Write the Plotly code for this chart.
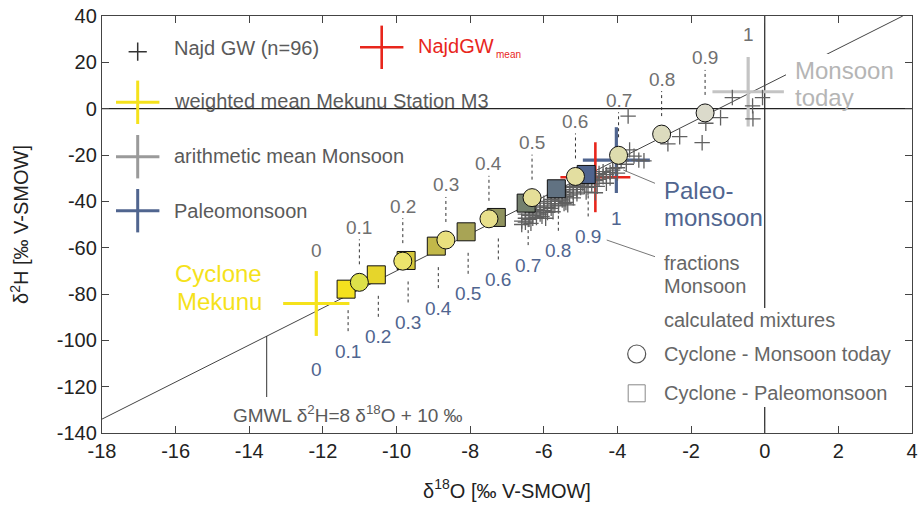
import plotly.graph_objects as go

# ---------------- data ----------------
fractions = [0.1, 0.2, 0.3, 0.4, 0.5, 0.6, 0.7, 0.8, 0.9]
frac_labels = ["0.1", "0.2", "0.3", "0.4", "0.5", "0.6", "0.7", "0.8", "0.9"]

# Cyclone - Monsoon today mixtures (circles)
circ_d18O = [-11.01, -9.83, -8.66, -7.49, -6.32, -5.14, -3.97, -2.80, -1.62]
circ_d2H = [-74.96, -65.82, -56.68, -47.54, -38.40, -29.26, -20.12, -10.98, -1.84]
circ_colors = ["#dde04a", "#ece46c", "#e9e07e", "#e8e08c", "#e5df98", "#e3dea0",
               "#dedcae", "#dcdbbe", "#dbdacb"]

# Cyclone - Paleomonsoon mixtures (squares)
sq_d18O = [-11.37, -10.55, -9.74, -8.92, -8.11, -7.29, -6.48, -5.66, -4.85]
sq_d2H = [-77.91, -71.72, -65.53, -59.34, -53.15, -46.96, -40.77, -34.58, -28.39]
sq_colors = ["#f4e11e", "#e6d52b", "#d6c83b", "#c2b849", "#a8a455", "#8f925e",
             "#74806e", "#617282", "#4f648e"]

# end members: (d18O, d2H, err d18O, err d2H)
cyclone = (-12.18, -84.1, 0.9, 14.0)
monsoon = (-0.45, 7.3, 0.97, 15.0)
paleo = (-4.03, -22.2, 0.91, 14.2)
najd_mean = (-4.60, -29.6, 0.95, 15.1)

# Najd groundwater samples (n=96)
najd_d18O = [
    -0.88, -0.06, -0.33, -0.32, -3.71, -1.20, -1.60, -2.31, -2.63, -1.70,
    -3.67, -3.42, -3.76, -4.13, -4.39, -3.28, -3.55,
    -6.60, -6.60, -6.50, -6.50, -6.50, -6.40, -6.40, -6.30, -6.30, -6.30,
    -6.20, -6.20, -6.20, -6.10, -6.10, -6.10, -6.00, -6.00, -6.00, -5.95,
    -5.90, -5.90, -5.90, -5.80, -5.80, -5.80, -5.70, -5.70, -5.70,
    -5.60, -5.60, -5.60, -5.50, -5.50, -5.50, -5.40, -5.40, -5.40,
    -5.30, -5.30, -5.30, -5.20, -5.20, -5.20, -5.10, -5.10, -5.10,
    -5.00, -5.00, -5.00, -4.94, -4.90, -4.90, -4.80, -4.80, -4.80,
    -4.70, -4.70, -4.60, -4.60, -4.60, -4.50, -4.50, -4.39, -4.30, -4.30,
    -4.20, -4.20, -4.13, -4.00, -4.00,
    -5.75, -5.35, -4.85, -6.35, -4.55, -3.90, -6.05, -5.45,
]
najd_d2H = [
    4.8, 4.8, 1.2, -4.4, -3.2, -3.9, -6.3, -12.1, -15.2, -14.7,
    -17.8, -22.2, -24.0, -26.5, -27.2, -22.5, -20.5,
    -48.5, -50.0, -47.3, -45.5, -49.0, -46.0, -47.8, -47.3, -44.5, -46.2,
    -43.5, -45.0, -47.0, -43.8, -42.0, -45.5, -42.5, -44.0, -40.8, -47.3,
    -42.6, -40.0, -44.8, -41.0, -39.2, -43.0, -41.6, -38.5, -40.0,
    -39.8, -37.5, -42.0, -39.4, -37.0, -35.8, -38.0, -36.2, -40.5,
    -37.3, -35.0, -34.0, -36.0, -33.5, -38.5, -34.8, -33.0, -36.8,
    -34.0, -32.0, -31.0, -32.2, -33.5, -30.5, -31.0, -29.5, -34.0,
    -30.0, -32.5, -29.0, -31.0, -36.3, -28.0, -30.5, -29.4, -32.2, -28.5,
    -27.5, -30.0, -25.8, -25.5, -27.8,
    -44.5, -41.5, -36.0, -49.5, -33.5, -22.5, -46.5, -41.0,
]

# GMWL: d2H = 8 d18O + 10
gmwl_x = [-18.0, 3.75]
gmwl_y = [8 * v + 10 for v in gmwl_x]

x_ticks = [-18, -16, -14, -12, -10, -8, -6, -4, -2, 0, 2, 4]
y_ticks = [-140, -120, -100, -80, -60, -40, -20, 0, 20, 40]

# ---------------- geometry helpers ----------------
W, H = 923, 508
ML, MR, MT, MB = 102, 11, 16, 75
XR = [-18, 4]
YR = [-140, 40]
PW = W - ML - MR
PH = H - MT - MB
KY = PH / (YR[1] - YR[0])


def px2x(px):
    return XR[0] + (px - ML) / PW * (XR[1] - XR[0])


def py2y(py):
    return YR[1] - (py - MT) / PH * (YR[1] - YR[0])


FONT = "Liberation Sans, Arial, Helvetica, sans-serif"
GRAY_TXT = "#5a5a5a"
FRAC_GRAY = "#707070"
BLUE = "#50658f"
YELLOW = "#f5e21b"
RED = "#e8261c"
LGRAY = "#c4c4c4"
MGRAY = "#9a9a9a"

fig = go.Figure()

# GMWL line
fig.add_trace(go.Scatter(x=gmwl_x, y=gmwl_y, mode="lines",
                         line=dict(color="#444444", width=1), hoverinfo="skip"))

# dotted leaders
dx, dy = [], []
for xv, yv in zip(circ_d18O, circ_d2H):
    dx += [xv, xv, None]
    dy += [yv + 18 / KY, yv + 43 / KY, None]
for xv, yv in zip(sq_d18O, sq_d2H):
    dx += [xv + 2 * (XR[1] - XR[0]) / PW] * 2 + [None]
    dy += [yv - 21 / KY, yv - 45 / KY, None]
fig.add_trace(go.Scatter(x=dx, y=dy, mode="lines",
                         line=dict(color="#333333", width=1, dash="dot"),
                         hoverinfo="skip"))

# end-member crosses
for (cx, cy, ex, ey), col, th in [(cyclone, YELLOW, 3.2), (monsoon, LGRAY, 3.2),
                                  (paleo, BLUE, 3.2), (najd_mean, RED, 2.6)]:
    fig.add_trace(go.Scatter(
        x=[cx], y=[cy], mode="markers", marker=dict(size=1, color=col),
        error_x=dict(type="data", array=[ex], width=0, thickness=th, color=col),
        error_y=dict(type="data", array=[ey], width=0, thickness=th, color=col),
        hoverinfo="skip"))

# Najd GW samples
fig.add_trace(go.Scatter(x=najd_d18O, y=najd_d2H, mode="markers",
                         marker=dict(symbol="cross-thin", size=11, color="#606060",
                                     line=dict(width=1.3, color="#606060")),
                         hoverinfo="skip"))

# mixtures
fig.add_trace(go.Scatter(x=sq_d18O, y=sq_d2H, mode="markers",
                         marker=dict(symbol="square", size=18, color=sq_colors,
                                     line=dict(width=1, color="#111111"))))
fig.add_trace(go.Scatter(x=circ_d18O, y=circ_d2H, mode="markers",
                         marker=dict(symbol="circle", size=18, color=circ_colors,
                                     line=dict(width=1, color="#111111"))))

# legend symbols
fig.add_trace(go.Scatter(x=[px2x(137.7)], y=[py2y(51.7)], mode="markers",
                         marker=dict(symbol="cross-thin", size=13, color="#333333",
                                     line=dict(width=1.5, color="#333333")),
                         hoverinfo="skip"))
fig.add_trace(go.Scatter(x=[px2x(636.7)], y=[py2y(354)], mode="markers",
                         marker=dict(symbol="circle-open", size=18, color="#555555",
                                     line=dict(width=1.2, color="#555555")),
                         hoverinfo="skip"))
fig.add_trace(go.Scatter(x=[px2x(636.7)], y=[py2y(393.3)], mode="markers",
                         marker=dict(symbol="square-open", size=17, color="#888888",
                                     line=dict(width=1, color="#888888")),
                         hoverinfo="skip"))

shapes = []
# zero lines
shapes.append(dict(type="line", x0=0, x1=0, y0=YR[0], y1=YR[1], xref="x", yref="y",
                   line=dict(color="#222222", width=1.2), layer="between"))
shapes.append(dict(type="line", x0=XR[0], x1=XR[1], y0=0, y1=0, xref="x", yref="y",
                   line=dict(color="#222222", width=1.2), layer="between"))
# white box behind lower-right legend
shapes.append(dict(type="rect", x0=px2x(622), x1=px2x(905), y0=py2y(308), y1=py2y(407),
                   xref="x", yref="y", fillcolor="white", line=dict(width=0),
                   layer="between"))
# white box behind "Monsoon today"
shapes.append(dict(type="rect", x0=px2x(786), x1=px2x(897), y0=py2y(54), y1=py2y(82),
                   xref="x", yref="y", fillcolor="white", line=dict(width=0),
                   layer="above"))


def legend_cross(cxp, cyp, col, w, half=21.7):
    shapes.append(dict(type="line", x0=px2x(cxp - half), x1=px2x(cxp + half),
                       y0=py2y(cyp), y1=py2y(cyp), xref="x", yref="y",
                       line=dict(color=col, width=w), layer="above"))
    shapes.append(dict(type="line", x0=px2x(cxp), x1=px2x(cxp),
                       y0=py2y(cyp - half), y1=py2y(cyp + half), xref="x", yref="y",
                       line=dict(color=col, width=w), layer="above"))


legend_cross(381.7, 47.3, RED, 2.6)
legend_cross(137.7, 102.3, YELLOW, 3)
legend_cross(137.7, 156.7, MGRAY, 3)
legend_cross(137.7, 210.7, BLUE, 3)


def seg(x0p, y0p, x1p, y1p, col, w=1):
    shapes.append(dict(type="line", x0=px2x(x0p), x1=px2x(x1p), y0=py2y(y0p),
                       y1=py2y(y1p), xref="x", yref="y",
                       line=dict(color=col, width=w), layer="above"))


seg(266.7, 336, 266.7, 397, "#333333")
seg(623.3, 170, 655, 183.3, "#777777")
seg(606.7, 240, 655, 256.7, "#777777")

ann = []


def txt(xp, yp, text, size=20, color=GRAY_TXT, xanchor="left"):
    ann.append(dict(x=px2x(xp), y=py2y(yp), xref="x", yref="y", text=text,
                    showarrow=False, xanchor=xanchor, yanchor="middle",
                    font=dict(family=FONT, size=size, color=color)))


# fraction labels
for xv, yv, lab in zip(circ_d18O, circ_d2H, frac_labels):
    ann.append(dict(x=xv, y=yv, text=lab, showarrow=False, yshift=55,
                    font=dict(family=FONT, size=19, color=FRAC_GRAY)))
for xv, yv, lab in zip(sq_d18O, sq_d2H, frac_labels):
    ann.append(dict(x=xv, y=yv, text=lab, showarrow=False, yshift=-62, xshift=2,
                    font=dict(family=FONT, size=19, color=BLUE)))
ann.append(dict(x=cyclone[0], y=cyclone[1], text="0", showarrow=False, yshift=53,
                font=dict(family=FONT, size=19, color=FRAC_GRAY)))
ann.append(dict(x=monsoon[0], y=monsoon[1], text="1", showarrow=False, yshift=57,
                font=dict(family=FONT, size=19, color=FRAC_GRAY)))
ann.append(dict(x=cyclone[0], y=cyclone[1], text="0", showarrow=False, yshift=-66,
                font=dict(family=FONT, size=19, color=BLUE)))
ann.append(dict(x=paleo[0], y=paleo[1], text="1", showarrow=False, yshift=-58,
                font=dict(family=FONT, size=19, color=BLUE)))

# legend texts
txt(172, 48, "Najd GW (n=96)")
txt(416, 46, "NajdGW", color=RED)
txt(494, 54, "mean", size=10, color=RED)
txt(172, 101, "weighted mean Mekunu Station M3")
txt(172, 156, "arithmetic mean Monsoon")
txt(172, 211, "Paleomonsoon")

txt(662, 263, "fractions", color="#666666")
txt(662, 286, "Monsoon", color="#666666")
txt(662, 320, "calculated mixtures", color="#666666")
txt(662, 354, "Cyclone - Monsoon today", color="#666666")
txt(662, 393, "Cyclone - Paleomonsoon", color="#666666")

# big labels
txt(264, 273, "Cyclone", size=24, color=YELLOW, xanchor="right")
txt(264, 301, "Mekunu", size=24, color=YELLOW, xanchor="right")
txt(662, 190, "Paleo-", size=24, color=BLUE)
txt(662, 217, "monsoon", size=24, color=BLUE)
txt(793, 70, "Monsoon", size=24, color="#b5b5b5")
txt(793, 97, "today", size=24, color="#b5b5b5")

txt(348, 414, "GMWL δ<sup>2</sup>H=8 δ<sup>18</sup>O + 10 ‰", size=19, xanchor="center")

fig.update_layout(
    width=W, height=H, margin=dict(l=ML, r=MR, t=MT, b=MB, autoexpand=False),
    paper_bgcolor="white", plot_bgcolor="white", showlegend=False,
    shapes=shapes, annotations=ann,
    font=dict(family=FONT, size=20, color="#222222"),
)
axis_common = dict(showgrid=False, zeroline=False, showline=True, linecolor="#444444",
                   linewidth=1.3, mirror="ticks", ticks="inside", ticklen=7,
                   tickcolor="#444444", tickwidth=1.2, automargin=False,
                   tickfont=dict(family=FONT, size=20, color="#222222"))
fig.update_xaxes(range=XR, tickvals=x_ticks, ticktext=[str(v) for v in x_ticks],
                 title=dict(text="δ<sup>18</sup>O [‰ V-SMOW]", standoff=22,
                            font=dict(family=FONT, size=20, color="#222222")),
                 **axis_common)
fig.update_yaxes(range=YR, tickvals=y_ticks, ticktext=[str(v) for v in y_ticks],
                 title=dict(text="δ<sup>2</sup>H [‰ V-SMOW]", standoff=22,
                            font=dict(family=FONT, size=20, color="#222222")),
                 **axis_common)

fig.write_html("out.html")
